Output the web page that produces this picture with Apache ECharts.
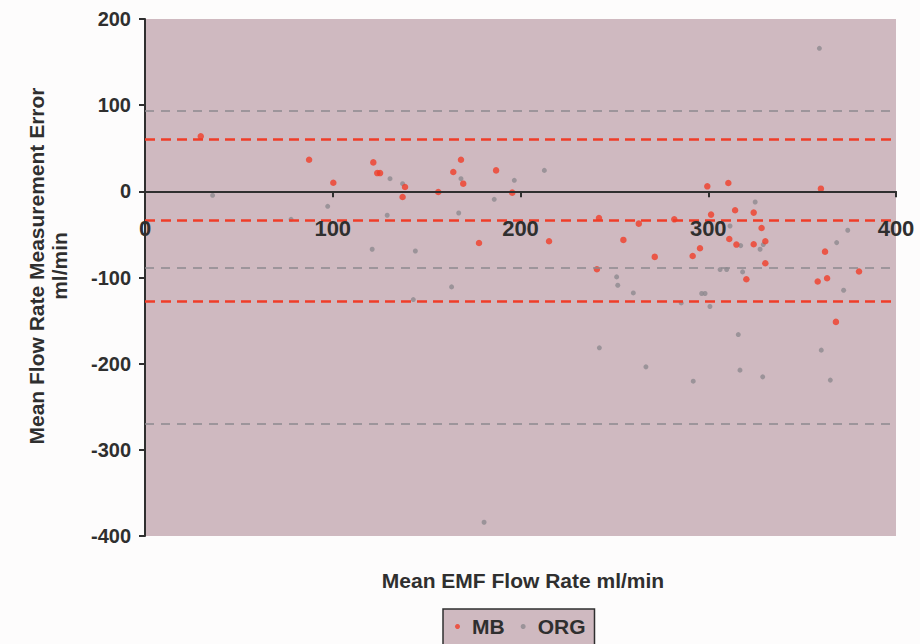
<!DOCTYPE html>
<html>
<head>
<meta charset="utf-8">
<title>Mean Flow Rate Measurement Error</title>
<script src="https://cdn.jsdelivr.net/npm/echarts@6/dist/echarts.min.js"></script>
<style>
  html, body { margin: 0; padding: 0; background: #fdfcfc; }
  #chart { width: 920px; height: 644px; }
</style>
</head>
<body>
<div id="chart"></div>
<script>
// Mean EMF flow rate (ml/min) vs. mean flow rate measurement error (ml/min)
const mbPoints = [
  [29.7, 63.8], [87.4, 36.7], [100.3, 10], [121.6, 33.6], [123.7, 21.2], [125.2, 21.2],
  [138.5, 5], [137.2, -6.6], [156.2, -0.8], [164.2, 22.4], [168.3, 36.7], [169.5, 8.9],
  [187, 24.3], [195.6, -1.5], [177.9, -59.9], [215.2, -58], [241.8, -30.9], [263, -37.5],
  [254.8, -56.4], [271.5, -76.1], [240.7, -90.4], [299.5, 5.8], [310.7, 9.7], [314.3, -22],
  [281.9, -32.5], [301.5, -27], [324.2, -24.7], [328.4, -42.5], [311.2, -55.3], [315, -61.8],
  [324.2, -61.4], [330.4, -58], [330.4, -83.5], [295.6, -66], [291.7, -75], [320.3, -102],
  [360, 3.1], [362.2, -70], [358.3, -104.7], [363.3, -100.9], [380.3, -93.1], [368, -151.5]
];

const orgPoints = [
  [36, -4.6], [97.3, -17.4], [130.5, 14.7], [77.8, -32.5], [129, -27.8], [121, -67.2],
  [137.2, 8.9], [168.3, 14.7], [196.7, 12.8], [186, -9.3], [212.7, 24.3], [167.1, -25.1],
  [144, -69.2], [163.3, -110.9], [142.9, -125.6], [251.2, -99.3], [251.8, -109], [260.1, -117.9],
  [242, -181.6], [266.8, -203.7], [359.2, 166], [325, -12.4], [311.6, -40.2], [317.3, -63],
  [329.3, -61.8], [327.6, -67.2], [306.3, -90.8], [309.8, -90.8], [318.3, -93.5], [296.5, -118.6],
  [298.3, -118.6], [285.6, -129.5], [300.9, -133.7], [316, -166.2], [316.9, -207.5], [329, -215.3],
  [292, -220.3], [374.3, -45.2], [368.4, -59.5], [372.1, -114.8], [360.2, -184.3], [365, -219.1],
  [180.6, -384]
];

// Mean bias and 95% limits of agreement for each method
const mbLines = [61, -33, -127];
const orgLines = [93, -89, -270];

const xRange = { min: 0, max: 400, step: 100 };
const yRange = { min: -400, max: 200, step: 100 };

const seriesNames = ['MB', 'ORG'];
const xTitle = 'Mean EMF Flow Rate ml/min';
const yTitle = ['Mean Flow Rate Measurement Error', 'ml/min'];

const RED = '#f03d28';
const GREY = '#8d898e';
const INK = '#2f2f2f';
const PLOT_BG = '#cfb9c0';
const FONT = 'Liberation Sans, Arial, sans-serif';

const chart = echarts.init(document.getElementById('chart'), null, { renderer: 'svg' });

chart.setOption({
  backgroundColor: '#fdfcfc',
  animation: false,
  grid: {
    left: 145, right: 24, top: 19, bottom: 108,
    show: true, backgroundColor: PLOT_BG, borderWidth: 0
  },
  xAxis: {
    type: 'value',
    min: xRange.min, max: xRange.max, interval: xRange.step,
    axisLine: { onZero: false, lineStyle: { color: INK, width: 2 } },
    axisTick: { show: true, inside: false, length: 6, lineStyle: { color: INK, width: 2 } },
    axisLabel: { color: INK, fontFamily: FONT, fontWeight: 'bold', fontSize: 22, margin: 26 },
    splitLine: { show: false },
    z: 5
  },
  yAxis: {
    type: 'value',
    min: yRange.min, max: yRange.max, interval: yRange.step,
    axisLine: { show: true, onZero: false, lineStyle: { color: INK, width: 2 } },
    axisTick: { show: true, inside: false, length: 6, lineStyle: { color: INK, width: 2 } },
    axisLabel: { color: INK, fontFamily: FONT, fontWeight: 'bold', fontSize: 20, margin: 14 },
    splitLine: { show: false }
  },
  legend: {
    data: seriesNames,
    left: 443, top: 609,
    icon: 'circle', itemWidth: 5, itemHeight: 5, itemGap: 16,
    padding: [7, 9, 14, 12],
    backgroundColor: PLOT_BG,
    borderColor: INK, borderWidth: 1.5, borderRadius: 0,
    textStyle: { color: INK, fontFamily: FONT, fontWeight: 'bold', fontSize: 21, padding: [0, 0, 0, 7] }
  },
  graphic: [
    {
      type: 'text', x: 523, y: 580,
      style: { text: xTitle, fill: INK, font: 'bold 21px ' + FONT, textAlign: 'center', textVerticalAlign: 'middle' }
    },
    {
      type: 'text', x: 48, y: 266, rotation: Math.PI / 2,
      style: { text: yTitle.join('\n'), fill: INK, font: 'bold 21px ' + FONT, lineHeight: 23, textAlign: 'center', textVerticalAlign: 'middle' }
    }
  ],
  series: [
    {
      name: 'MB', type: 'scatter', data: mbPoints,
      symbol: 'circle', symbolSize: 6.5, itemStyle: { color: RED }, z: 4,
      markLine: {
        silent: true, symbol: 'none', label: { show: false },
        lineStyle: { color: RED, width: 2.5, type: [10, 6] },
        data: mbLines.map(v => ({ yAxis: v }))
      }
    },
    {
      name: 'ORG', type: 'scatter', data: orgPoints,
      symbol: 'circle', symbolSize: 5, itemStyle: { color: GREY }, z: 3,
      markLine: {
        silent: true, symbol: 'none', label: { show: false },
        lineStyle: { color: GREY, width: 1.6, type: [9, 7] },
        data: orgLines.map(v => ({ yAxis: v }))
      }
    }
  ]
});

// Lift the x axis (line, ticks and labels) so it crosses the y axis at zero
const gridRect = chart.getModel().getComponent('grid', 0).coordinateSystem.getRect();
const zeroY = chart.convertToPixel({ yAxisIndex: 0 }, 0);
chart.setOption({ xAxis: { offset: -(gridRect.y + gridRect.height - zeroY) } });
</script>
</body>
</html>
